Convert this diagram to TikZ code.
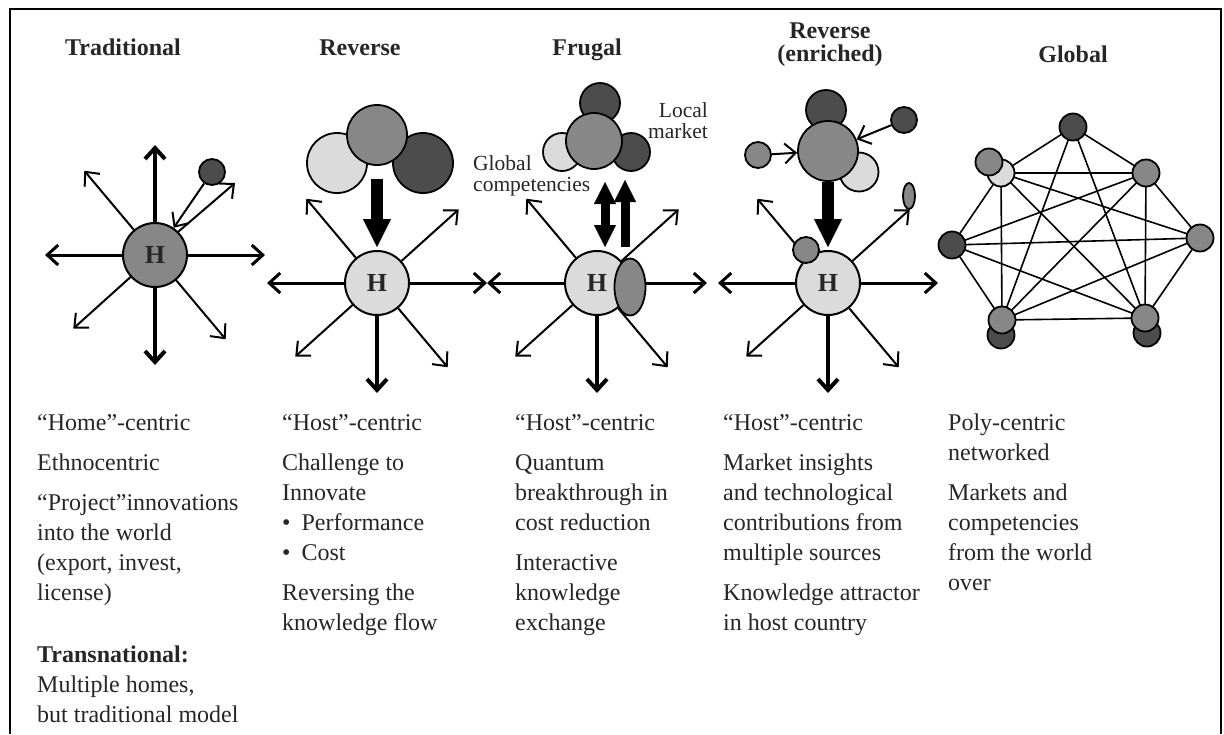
\documentclass[tikz,border=0pt]{standalone}
\usepackage{fontspec}
\setmainfont{Liberation Serif}
\usetikzlibrary{positioning,arrows.meta,calc,shapes.geometric}
\definecolor{ballLight}{gray}{0.86}
\definecolor{ballMid}{gray}{0.53}
\definecolor{ballDark}{gray}{0.30}

\begin{document}
\begin{tikzpicture}[
    x=1pt, y=1pt,
    hub/.style={circle, draw, line width=2pt, minimum size=64pt, inner sep=0pt, fill=ballLight,
        text=black!85, font=\fontsize{26}{30}\selectfont\bfseries},
    ball/.style={circle, draw, line width=1.8pt, inner sep=0pt, minimum size=#1},
    oval/.style={ellipse, draw, line width=1.8pt, inner sep=0pt, fill=ballMid},
    title/.style={text=black!85, font=\fontsize{24}{23}\selectfont\bfseries, align=center, inner sep=0pt},
    note/.style={text=black!85, font=\fontsize{24}{30}\selectfont, anchor=north west, align=left, inner sep=0pt},
    small/.style={text=black!85, font=\fontsize{21.5}{21}\selectfont, inner sep=0pt},
    hspoke/.style={line width=3pt, -{Straight Barb[length=11pt,width=20pt]}},
    vspoke/.style={line width=4pt, -{Straight Barb[length=11pt,width=20pt]}},
    dspoke/.style={line width=2pt, -{Straight Barb[length=11pt,width=20pt]}},
    bigdown/.style={line width=12pt, -{Triangle[length=28pt,width=28pt,line width=0.1pt]}},
    twoway/.style={line width=9pt, {Triangle[length=22pt,width=22pt,line width=0.1pt]}-{Triangle[length=22pt,width=22pt,line width=0.1pt]}},
    oneway/.style={line width=9pt, -{Triangle[length=22pt,width=22pt,line width=0.1pt]}},
    net/.style={line width=1.6pt}
]
    \useasboundingbox (0,0) rectangle (1224,-734);
    \draw[line width=2.5pt] (10,-734) -- (10,-9) -- (1221,-9) -- (1221,-734);

    % titles
    \node[title, anchor=base] (tdTitle) at (123,-55) {Traditional};
    \node[title, anchor=base] (rvTitle) at (360,-55) {Reverse};
    \node[title, anchor=base] (fgTitle) at (587,-55) {Frugal};
    \node[title, anchor=north] (reTitle) at (830,-23) {Reverse\\(enriched)};
    \node[title, anchor=base] (glTitle) at (1073,-62) {Global};

    % traditional
    \node[hub, fill=ballMid] (tdHub) at (155,-255) {H};
    \node[ball=26pt, fill=ballDark] (tdSat) at (212,-172) {};
    \coordinate (tdOut) at (235,-183);
    \foreach \ang/\sty in {0/hspoke,180/hspoke,90/vspoke,270/vspoke,130/dspoke,222/dspoke,310/dspoke}
        \draw[\sty] (tdHub.\ang) -- ($(tdHub.center)+(\ang:110)$);
    \draw[dspoke] (tdSat) -- (tdHub);
    \draw[dspoke] (tdHub.45) -- (tdOut);

    % reverse
    \node[ball=60pt, fill=ballLight] (rvLeft) at (337,-163) {};
    \node[ball=60pt, fill=ballDark] (rvRight) at (423,-163) {};
    \node[ball=60pt, fill=ballMid] (rvTop) at (377,-135) {};
    \node[hub] (rvHub) at (377,-283) {H};
    \foreach \ang/\sty in {0/hspoke,180/hspoke,270/vspoke,130/dspoke,42/dspoke,222/dspoke,310/dspoke}
        \draw[\sty] (rvHub.\ang) -- ($(rvHub.center)+(\ang:110)$);
    \draw[bigdown] ([yshift=-13pt]rvTop.south) -- ([yshift=3pt]rvHub.north);

    % frugal
    \node[ball=40pt, fill=ballDark] (fgTop) at (600,-103) {};
    \node[ball=38pt, fill=ballLight] (fgLeft) at (562,-152) {};
    \node[ball=38pt, fill=ballDark] (fgRight) at (631,-152) {};
    \node[ball=56pt, fill=ballMid] (fgBig) at (594,-141) {};
    \node[small, anchor=north east, align=right] (fgLocal) at (708,-102) {Local\\market};
    \node[small, anchor=north west, align=left] (fgGlobal) at (473,-155) {Global\\competencies};
    \node[hub] (fgHub) at (597,-283) {H};
    \foreach \ang/\sty in {0/hspoke,180/hspoke,270/vspoke,130/dspoke,42/dspoke,222/dspoke,310/dspoke}
        \draw[\sty] (fgHub.\ang) -- ($(fgHub.center)+(\ang:110)$);
    \node[oval, minimum width=31pt, minimum height=57pt] (fgOval) at (630,-287) {};
    \coordinate (fgA1) at (605,-182);
    \coordinate (fgA2) at (605,-247);
    \coordinate (fgB1) at (625,-180);
    \coordinate (fgB2) at (625,-247);
    \draw[twoway] (fgA1) -- (fgA2);
    \draw[oneway] (fgB2) -- (fgB1);

    % reverse (enriched)
    \node[ball=40pt, fill=ballDark] (reTop) at (826,-110) {};
    \node[ball=39pt, fill=ballLight] (reLight) at (859,-172) {};
    \node[ball=60pt, fill=ballMid] (reBig) at (828,-151) {};
    \node[ball=26pt, fill=ballMid] (reSatL) at (758,-155) {};
    \node[ball=26pt, fill=ballDark] (reSatR) at (904,-120) {};
    \node[oval, minimum width=12pt, minimum height=26pt] (reOval) at (909,-196) {};
    \node[hub] (reHub) at (828,-283) {H};
    \foreach \ang/\sty in {0/hspoke,180/hspoke,270/vspoke,130/dspoke,42/dspoke,222/dspoke,310/dspoke}
        \draw[\sty] (reHub.\ang) -- ($(reHub.center)+(\ang:110)$);
    \node[ball=26pt, fill=ballMid] (reKnob) at (806,-250) {};
    \draw[dspoke] (reSatL) -- (reBig);
    \draw[dspoke] (reSatR) -- (reBig);
    \draw[bigdown] (reBig.south) -- ([yshift=3pt]reHub.north);

    % global network
    \coordinate (gT) at (1073,-127);
    \coordinate (gUL) at (1001,-173);
    \coordinate (gUR) at (1146,-173);
    \coordinate (gL) at (952,-245);
    \coordinate (gR) at (1200,-238);
    \coordinate (gLL) at (1002,-320);
    \coordinate (gLR) at (1145,-318);
    \foreach \a/\b in {gT/gUL,gT/gUR,gT/gLL,gT/gLR,gUL/gUR,gUL/gL,gUL/gLL,gUL/gLR,gUL/gR,
        gUR/gR,gUR/gLR,gUR/gL,gUR/gLL,gL/gR,gL/gLL,gL/gLR,gR/gLR,gR/gLL,gLL/gLR}
        \draw[net] (\a) -- (\b);
    \node[ball=27pt, fill=ballLight] (glULb) at (gUL) {};
    \node[ball=27pt, fill=ballMid] (glUL) at (989,-162) {};
    \node[ball=27pt, fill=ballDark] (glT) at (gT) {};
    \node[ball=27pt, fill=ballMid] (glUR) at (gUR) {};
    \node[ball=27pt, fill=ballDark] (glL) at (gL) {};
    \node[ball=27pt, fill=ballMid] (glR) at (gR) {};
    \node[ball=27pt, fill=ballDark] (glLLb) at (1001,-335) {};
    \node[ball=27pt, fill=ballMid] (glLL) at (gLL) {};
    \node[ball=27pt, fill=ballDark] (glLRb) at (1147,-333) {};
    \node[ball=27pt, fill=ballMid] (glLR) at (gLR) {};

    % texts
    \node[note] (tdText) at (37,-414) {“Home”-centric\\[10pt]
        Ethnocentric\\[10pt]
        “Project”innovations\\ into the world\\ (export, invest,\\ license)\\[32pt]
        \textbf{Transnational:}\\ Multiple homes,\\ but traditional model};
    \node[note] (rvText) at (282,-414) {“Host”-centric\\[10pt]
        Challenge to\\ Innovate\\
        \textbullet\hspace{11pt}Performance\\ \textbullet\hspace{11pt}Cost\\[10pt]
        Reversing the\\ knowledge flow};
    \node[note] (fgText) at (515,-414) {“Host”-centric\\[10pt]
        Quantum\\ breakthrough in\\ cost reduction\\[10pt]
        Interactive\\ knowledge\\ exchange};
    \node[note] (reText) at (723,-414) {“Host”-centric\\[10pt]
        Market insights\\ and technological\\ contributions from\\ multiple sources\\[10pt]
        Knowledge attractor\\ in host country};
    \node[note] (glText) at (948,-414) {Poly-centric\\ networked\\[10pt]
        Markets and\\ competencies\\ from the world\\ over};
\end{tikzpicture}
\end{document}
